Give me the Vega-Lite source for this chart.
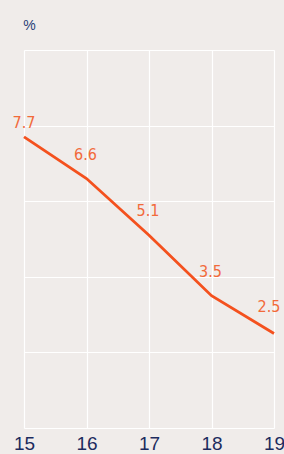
{
  "$schema": "https://vega.github.io/schema/vega-lite/v6.json",
  "width": 250,
  "height": 378,
  "autosize": "none",
  "padding": {"left": 24, "top": 50, "right": 10, "bottom": 26},
  "background": "#f0ecea",
  "config": {"view": {"stroke": null}},
  "data": {"values": [
    {"year": 15, "value": 7.7},
    {"year": 16, "value": 6.6},
    {"year": 17, "value": 5.1},
    {"year": 18, "value": 3.5},
    {"year": 19, "value": 2.5}
  ]},
  "encoding": {
    "x": {"field": "year", "type": "quantitative",
      "scale": {"domain": [15, 19], "nice": false, "zero": false},
      "axis": {"values": [15, 16, 17, 18, 19], "title": null, "grid": true, "gridColor": "#ffffff", "gridWidth": 1.2, "gridOpacity": 1,
        "domain": false, "ticks": false, "labelFont": "Liberation Sans", "labelFontSize": 19, "labelColor": "#1c2b5e",
        "labelPadding": 6, "labelFlush": false, "labelOverlap": false, "labelBound": false}},
    "y": {"field": "value", "type": "quantitative",
      "scale": {"domain": [0, 10], "nice": false},
      "axis": {"values": [0, 2, 4, 6, 8, 10], "grid": true, "gridColor": "#ffffff", "gridWidth": 1.2, "gridOpacity": 1,
        "domain": false, "ticks": false, "labels": false,
        "title": "%", "titleAngle": 0, "titleX": 5, "titleY": -25, "titleAlign": "center", "titleBaseline": "middle",
        "titleFont": "Liberation Sans", "titleFontSize": 14, "titleFontWeight": "normal", "titleColor": "#2a3f78"}}
  },
  "layer": [
    {"mark": {"type": "line", "color": "#f4511e", "strokeWidth": 2.8}},
    {"transform": [{"filter": "datum.year == 15"}],
     "mark": {"type": "text", "font": "DejaVu Sans Condensed, Liberation Sans", "fontSize": 16, "color": "#f26a3a", "baseline": "alphabetic", "dy": -9, "dx": 0},
     "encoding": {"text": {"field": "value", "type": "quantitative", "format": ".1f"}}},
    {"transform": [{"filter": "datum.year > 15 && datum.year < 19"}],
     "mark": {"type": "text", "font": "DejaVu Sans Condensed, Liberation Sans", "fontSize": 16, "color": "#f26a3a", "baseline": "alphabetic", "dy": -19, "dx": -1},
     "encoding": {"text": {"field": "value", "type": "quantitative", "format": ".1f"}}},
    {"transform": [{"filter": "datum.year == 19"}],
     "mark": {"type": "text", "font": "DejaVu Sans Condensed, Liberation Sans", "fontSize": 16, "color": "#f26a3a", "baseline": "alphabetic", "dy": -22, "dx": -5},
     "encoding": {"text": {"field": "value", "type": "quantitative", "format": ".1f"}}}
  ]
}
